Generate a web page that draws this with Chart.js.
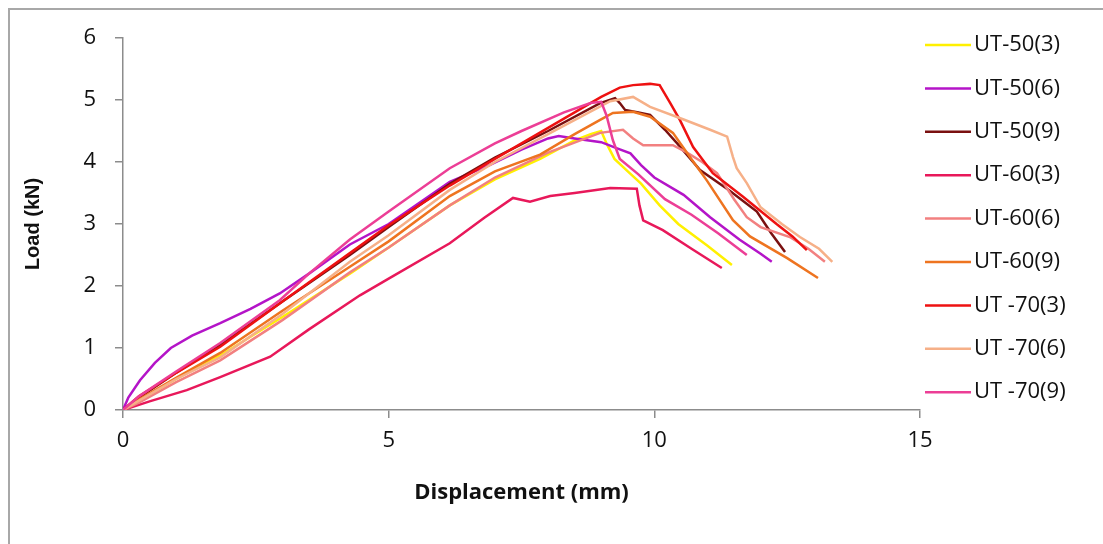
<!DOCTYPE html>
<html>
<head>
<meta charset="utf-8">
<script src="https://cdn.jsdelivr.net/npm/chart.js@4.4.1/dist/chart.umd.min.js"></script>
<style>
  html, body { margin: 0; padding: 0; background: #fff; }
  #wrap { position: relative; width: 1103px; height: 544px; overflow: hidden; }
  #marco { position: absolute; left: 8px; top: 8px; width: 1200px; height: 600px; border-left: 2px solid #a8a8a8; border-top: 2px solid #a8a8a8; }
  canvas { position: absolute; left: 0; top: 0; }
</style>
</head>
<body>
<div id="wrap">
  <div id="marco"></div>
  <canvas id="grafico" width="1103" height="544"></canvas>
</div>
<script>
// Series names and colours
const nombres = ["UT-50(3)", "UT-50(6)", "UT-50(9)", "UT-60(3)", "UT-60(6)", "UT-60(9)", "UT -70(3)", "UT -70(6)", "UT -70(9)"];
const colores = ["#FFF000", "#B414C8", "#7A1010", "#E8185A", "#F28080", "#EE7420", "#EE1111", "#F6B088", "#EC3E96"];

// Displacement (mm) / Load (kN)
const dispUT50_3 = [0, 0.3, 1, 1.83, 3, 4.27, 5, 6.15, 7, 7.85, 8.5, 8.8, 9.0, 9.1, 9.25, 9.5, 9.75, 10.1, 10.45, 11.0, 11.46];
const loadUT50_3 = [0, 0.15, 0.5, 0.88, 1.5, 2.2, 2.62, 3.3, 3.72, 4.05, 4.35, 4.45, 4.5, 4.3, 4.05, 3.85, 3.65, 3.3, 3.0, 2.65, 2.34];

const dispUT50_6 = [0, 0.1, 0.32, 0.6, 0.9, 1.3, 1.83, 2.4, 2.95, 3.5, 4.27, 5, 6.15, 6.9, 7.5, 8.0, 8.2, 8.5, 9.0, 9.3, 9.55, 9.75, 10.0, 10.55, 11.05, 11.6, 12.0, 12.21];
const loadUT50_6 = [0, 0.2, 0.48, 0.76, 1.0, 1.2, 1.4, 1.63, 1.88, 2.2, 2.67, 3.0, 3.68, 3.95, 4.2, 4.38, 4.42, 4.38, 4.32, 4.22, 4.14, 3.95, 3.75, 3.47, 3.11, 2.75, 2.52, 2.39];

const dispUT50_9 = [0, 0.3, 1, 1.83, 3, 4.27, 5, 6.15, 7, 8, 8.98, 9.26, 9.35, 9.45, 9.7, 9.92, 10.2, 10.43, 10.86, 11.4, 11.93, 12.2, 12.46];
const loadUT50_9 = [0, 0.2, 0.6, 1.05, 1.75, 2.5, 2.95, 3.65, 4.07, 4.5, 4.95, 5.03, 4.95, 4.84, 4.8, 4.76, 4.52, 4.3, 3.87, 3.55, 3.2, 2.85, 2.55];

const dispUT60_3 = [0, 0.5, 1.2, 1.83, 2.77, 3.5, 4.46, 5, 6.15, 6.8, 7.34, 7.66, 8.04, 8.5, 9.17, 9.67, 9.72, 9.79, 10.16, 10.7, 11.27];
const loadUT60_3 = [0, 0.14, 0.32, 0.53, 0.86, 1.3, 1.85, 2.12, 2.69, 3.1, 3.42, 3.36, 3.45, 3.5, 3.58, 3.57, 3.3, 3.06, 2.9, 2.6, 2.29];

const dispUT60_6 = [0, 0.3, 1, 1.83, 3, 4.27, 5, 6.15, 7, 8, 8.98, 9.41, 9.6, 9.79, 10.35, 10.6, 10.9, 11.18, 11.5, 11.74, 12.0, 12.55, 12.9, 13.21];
const loadUT60_6 = [0, 0.12, 0.45, 0.8, 1.45, 2.22, 2.62, 3.3, 3.75, 4.15, 4.47, 4.52, 4.38, 4.27, 4.27, 4.16, 4.0, 3.82, 3.4, 3.11, 2.95, 2.79, 2.6, 2.39];

const dispUT60_9 = [0, 0.3, 1, 1.83, 3, 4.27, 5, 6.15, 7, 7.85, 8.5, 8.98, 9.22, 9.6, 9.92, 10.35, 10.67, 10.99, 11.48, 11.8, 12.5, 13.08];
const loadUT60_9 = [0, 0.17, 0.52, 0.92, 1.6, 2.31, 2.72, 3.45, 3.85, 4.12, 4.45, 4.68, 4.79, 4.81, 4.73, 4.47, 4.08, 3.7, 3.06, 2.8, 2.45, 2.13];

const dispUT70_3 = [0, 0.3, 1, 1.83, 3, 4.27, 5, 6.15, 7, 8, 9, 9.35, 9.6, 9.92, 10.1, 10.3, 10.48, 10.73, 11.1, 11.67, 12.3, 12.6, 12.87];
const loadUT70_3 = [0, 0.22, 0.6, 1.02, 1.75, 2.53, 2.98, 3.62, 4.05, 4.55, 5.05, 5.2, 5.24, 5.26, 5.24, 4.95, 4.68, 4.24, 3.82, 3.44, 3.0, 2.8, 2.58];

const dispUT70_6 = [0, 0.3, 1, 1.83, 3, 4.27, 5, 6.15, 7, 8, 9.17, 9.6, 9.92, 10.54, 11.05, 11.37, 11.48, 11.55, 11.74, 12.0, 12.4, 12.74, 13.1, 13.35];
const loadUT70_6 = [0, 0.15, 0.5, 0.85, 1.55, 2.39, 2.82, 3.55, 4.0, 4.45, 4.98, 5.05, 4.89, 4.69, 4.52, 4.41, 4.08, 3.9, 3.66, 3.27, 3.0, 2.79, 2.6, 2.39];

const dispUT70_9 = [0, 0.3, 1, 1.83, 2.95, 3.5, 4.27, 5, 6.15, 7, 7.5, 8.3, 8.8, 9.0, 9.1, 9.22, 9.35, 9.7, 10.2, 10.7, 11.2, 11.74];
const loadUT70_9 = [0, 0.22, 0.62, 1.08, 1.77, 2.2, 2.75, 3.2, 3.9, 4.3, 4.5, 4.8, 4.95, 4.97, 4.75, 4.35, 4.05, 3.8, 3.4, 3.15, 2.85, 2.5];

const desplazamientos = [dispUT50_3, dispUT50_6, dispUT50_9, dispUT60_3, dispUT60_6, dispUT60_9, dispUT70_3, dispUT70_6, dispUT70_9];
const cargas = [loadUT50_3, loadUT50_6, loadUT50_9, loadUT60_3, loadUT60_6, loadUT60_9, loadUT70_3, loadUT70_6, loadUT70_9];

// Axis ticks
const ticksX = [0, 5, 10, 15];
const ticksY = [0, 1, 2, 3, 4, 5, 6];

const datasets = nombres.map((n, i) => ({
    label: n,
    data: desplazamientos[i].map((x, j) => ({ x: x, y: cargas[i][j] })),
    borderColor: colores[i],
    backgroundColor: colores[i],
    borderWidth: 2.5,
    pointRadius: 0,
    tension: 0,
    order: nombres.length - i
}));

// Legend drawn at the right, like the original
const leyenda = {
    id: 'leyenda',
    afterDraw(chart) {
        const ctx = chart.ctx;
        ctx.save();
        ctx.font = '22px "Open Sans"';
        ctx.textBaseline = 'middle';
        ctx.textAlign = 'left';
        nombres.forEach((n, i) => {
            const y = 45 + i * 43.4;
            ctx.strokeStyle = colores[i];
            ctx.lineWidth = 2.5;
            ctx.beginPath();
            ctx.moveTo(925, y);
            ctx.lineTo(971, y);
            ctx.stroke();
            ctx.fillStyle = '#111';
            ctx.fillText(n, 974, y);
        });
        ctx.restore();
    }
};

new Chart(document.getElementById('grafico').getContext('2d'), {
    type: 'line',
    data: { datasets: datasets },
    options: {
        responsive: false,
        animation: false,
        layout: { padding: { left: 0, top: 38, right: 183, bottom: 0 } },
        plugins: { legend: { display: false }, tooltip: { enabled: false } },
        scales: {
            x: {
                type: 'linear', min: 0, max: 15,
                afterFit: (s) => { s.height = 134; },
                afterBuildTicks: (s) => { s.ticks = ticksX.map(v => ({ value: v })); },
                grid: { drawOnChartArea: false, drawTicks: true, tickLength: 8, color: '#8c8c8c', lineWidth: 1.5 },
                border: { color: '#8c8c8c', width: 1.5 },
                ticks: { color: '#111', font: { family: 'Open Sans', size: 22 }, padding: 10 },
                title: { display: true, text: 'Displacement (mm)', color: '#111', font: { family: 'Open Sans', size: 22, weight: 'bold' }, padding: { top: 0, bottom: 38 } }
            },
            y: {
                type: 'linear', min: 0, max: 6,
                afterFit: (s) => { s.width = 123; },
                afterBuildTicks: (s) => { s.ticks = ticksY.map(v => ({ value: v })); },
                grid: { drawOnChartArea: false, drawTicks: true, tickLength: 8, color: '#8c8c8c', lineWidth: 1.5 },
                border: { color: '#8c8c8c', width: 1.5 },
                ticks: { color: '#111', font: { family: 'Open Sans', size: 22 }, padding: 19 },
                title: { display: true, text: 'Load (kN)', color: '#111', font: { family: 'Liberation Sans', size: 20, weight: 'bold' }, padding: { top: 21, bottom: 0 } }
            }
        }
    },
    plugins: [leyenda]
});
</script>
</body>
</html>
